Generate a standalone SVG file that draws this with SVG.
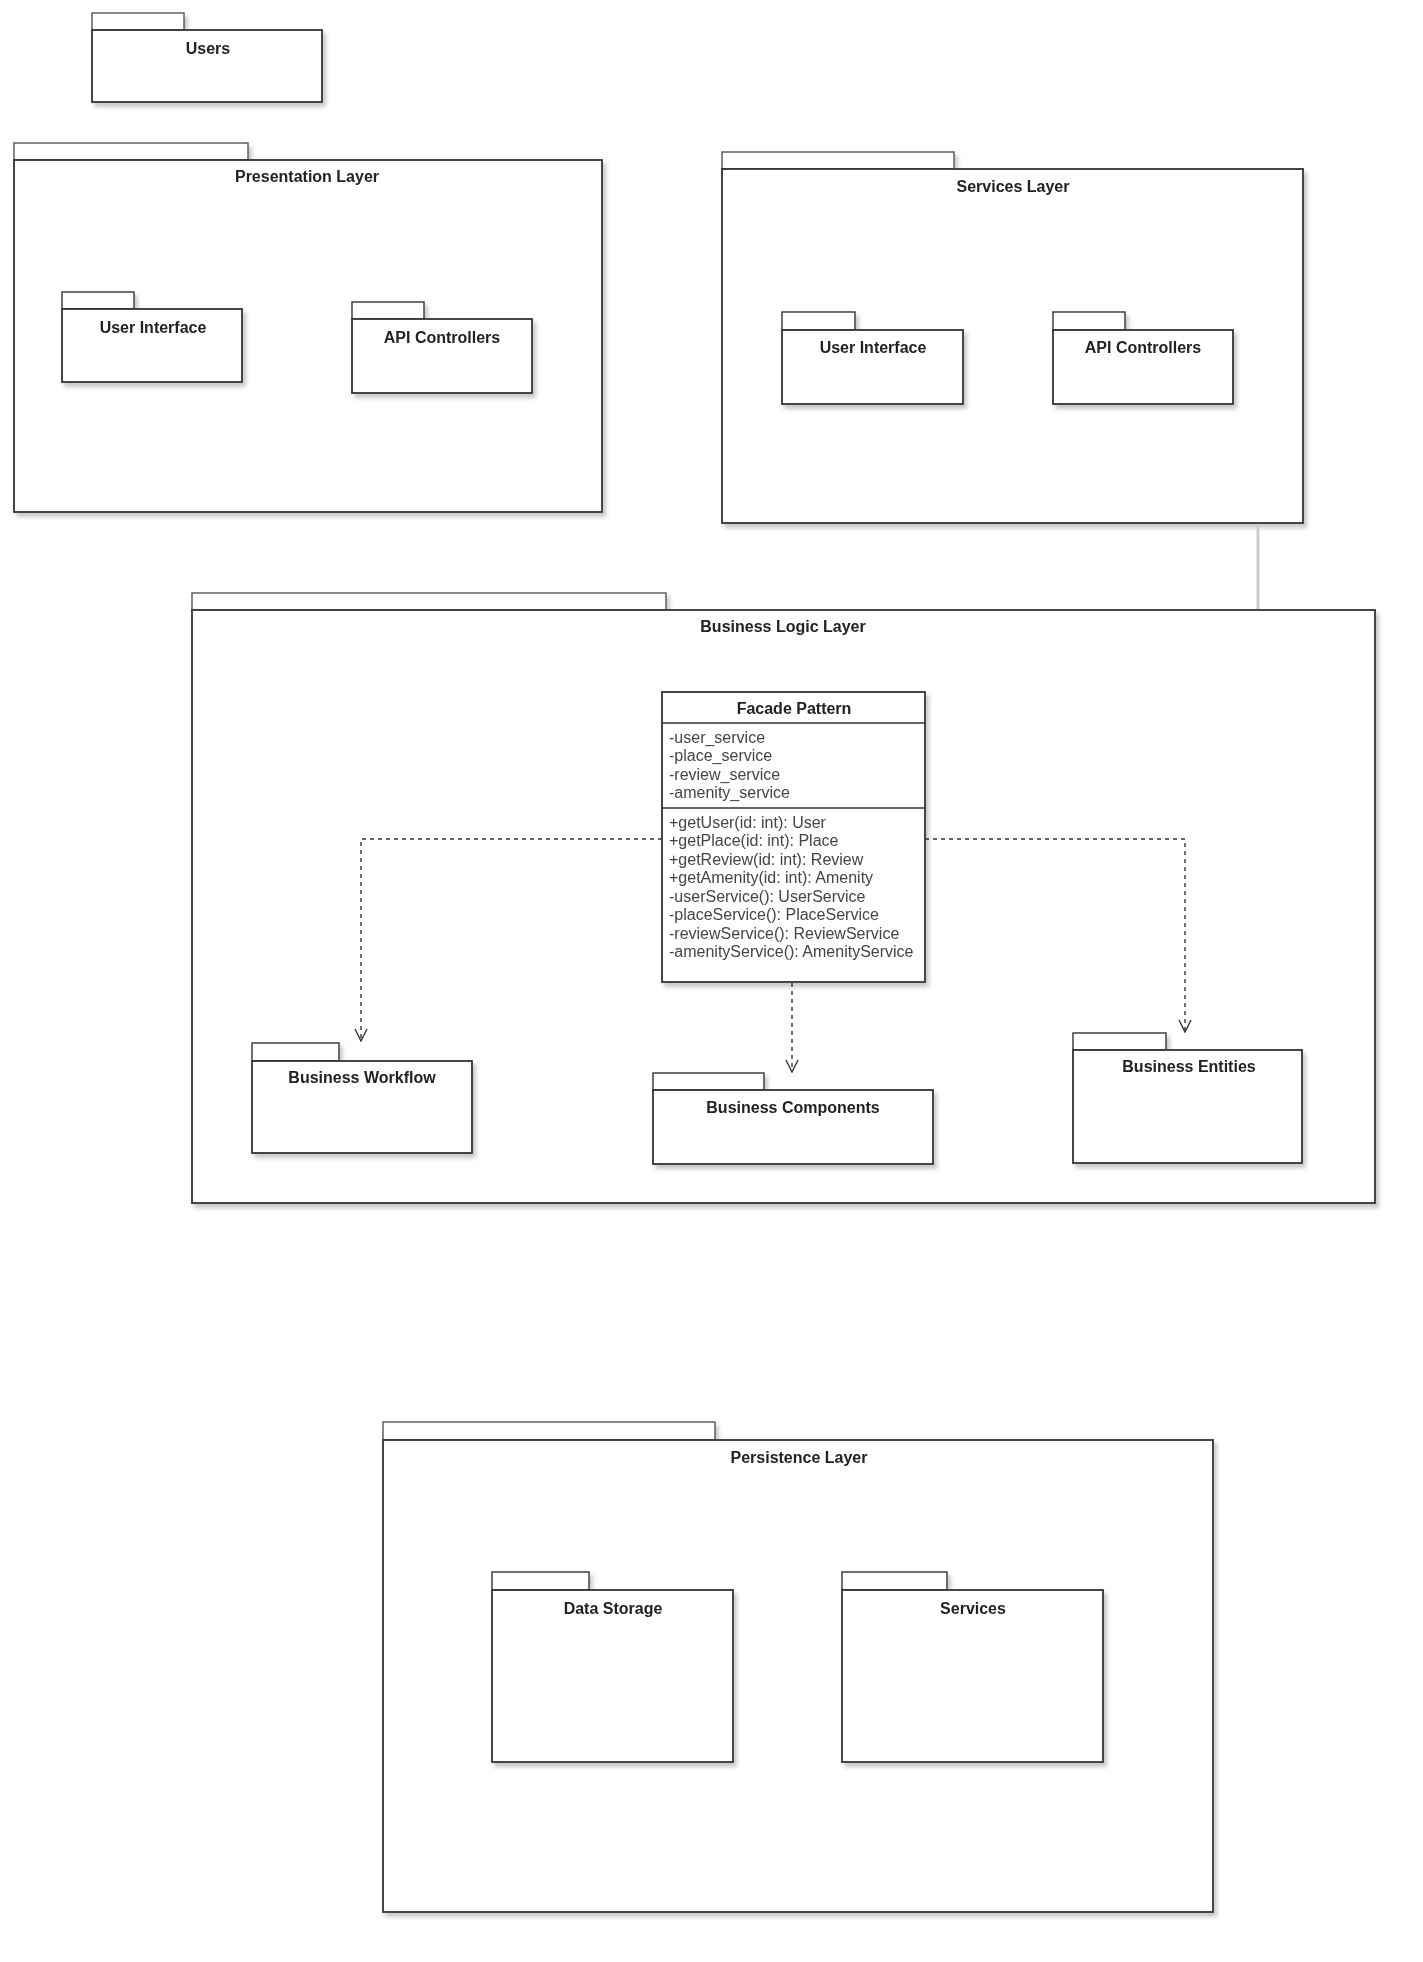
<svg xmlns="http://www.w3.org/2000/svg" width="1423" height="1962" viewBox="0 0 1423 1962">
<style>
  .body { fill: #ffffff; stroke: #333333; stroke-width: 1.8; }
  .tab { fill: #ffffff; stroke: #555555; stroke-width: 1.4; }
  .title { font-family: "Liberation Sans", Arial, sans-serif; font-size: 16px; font-weight: bold; fill: #222222; text-anchor: middle; }
  .member { font-family: "Liberation Sans", Arial, sans-serif; font-size: 16px; fill: #444444; }
  .dep { fill: none; stroke: #333333; stroke-width: 1.4; stroke-dasharray: 4 4; }
  .sep { stroke: #333333; stroke-width: 1.6; }
</style>
<defs>
  <filter id="shadow" x="-5%" y="-5%" width="115%" height="115%">
    <feDropShadow dx="3" dy="4" stdDeviation="2" flood-color="#808080" flood-opacity="0.45"/>
  </filter>
  <marker id="open" viewBox="0 0 14 14" refX="13" refY="7" markerWidth="14" markerHeight="14" markerUnits="userSpaceOnUse" orient="auto">
    <path d="M1,1 L13,7 L1,13" fill="none" stroke="#333333" stroke-width="1.4"/>
  </marker>
</defs>
<rect width="1423" height="1962" fill="#ffffff"/>

<!-- Users -->
<g id="users" filter="url(#shadow)">
  <rect class="tab" x="92" y="13" width="92" height="17"/>
  <rect class="body" x="92" y="30" width="230" height="72"/>
  <text class="title" x="208" y="54">Users</text>
</g>

<!-- Presentation Layer -->
<g id="presentation-layer" filter="url(#shadow)">
  <rect class="tab" x="14" y="143" width="234" height="17"/>
  <rect class="body" x="14" y="160" width="588" height="352"/>
  <text class="title" x="307" y="182">Presentation Layer</text>
</g>
<g id="pres-user-interface" filter="url(#shadow)">
  <rect class="tab" x="62" y="292" width="72" height="17" style="stroke:#333"/>
  <rect class="body" x="62" y="309" width="180" height="73"/>
  <text class="title" x="153" y="333">User Interface</text>
</g>
<g id="pres-api-controllers" filter="url(#shadow)">
  <rect class="tab" x="352" y="302" width="72" height="17" style="stroke:#333"/>
  <rect class="body" x="352" y="319" width="180" height="74"/>
  <text class="title" x="442" y="343">API Controllers</text>
</g>

<!-- Services Layer -->
<g id="services-layer" filter="url(#shadow)">
  <rect class="tab" x="722" y="152" width="232" height="17"/>
  <rect class="body" x="722" y="169" width="581" height="354"/>
  <text class="title" x="1013" y="192">Services Layer</text>
</g>
<g id="svc-user-interface" filter="url(#shadow)">
  <rect class="tab" x="782" y="312" width="73" height="18" style="stroke:#333"/>
  <rect class="body" x="782" y="330" width="181" height="74"/>
  <text class="title" x="873" y="353">User Interface</text>
</g>
<g id="svc-api-controllers" filter="url(#shadow)">
  <rect class="tab" x="1053" y="312" width="72" height="18" style="stroke:#333"/>
  <rect class="body" x="1053" y="330" width="180" height="74"/>
  <text class="title" x="1143" y="353">API Controllers</text>
</g>

<!-- Business Logic Layer -->
<g id="business-logic-layer" filter="url(#shadow)">
  <rect class="tab" x="192" y="593" width="474" height="17"/>
  <rect class="body" x="192" y="610" width="1183" height="593"/>
  <text class="title" x="783" y="632">Business Logic Layer</text>
</g>

<g id="facade-pattern" filter="url(#shadow)">
  <rect class="body" x="662" y="692" width="263" height="290"/>
  <line class="sep" x1="662" y1="723" x2="925" y2="723"/>
  <line class="sep" x1="662" y1="808" x2="925" y2="808"/>
  <text class="title" x="794" y="714">Facade Pattern</text>
  <text class="member" x="669" y="743">-user_service</text>
  <text class="member" x="669" y="761">-place_service</text>
  <text class="member" x="669" y="780">-review_service</text>
  <text class="member" x="669" y="798">-amenity_service</text>
  <text class="member" x="669" y="828">+getUser(id: int): User</text>
  <text class="member" x="669" y="846">+getPlace(id: int): Place</text>
  <text class="member" x="669" y="865">+getReview(id: int): Review</text>
  <text class="member" x="669" y="883">+getAmenity(id: int): Amenity</text>
  <text class="member" x="669" y="902">-userService(): UserService</text>
  <text class="member" x="669" y="920">-placeService(): PlaceService</text>
  <text class="member" x="669" y="939">-reviewService(): ReviewService</text>
  <text class="member" x="669" y="957">-amenityService(): AmenityService</text>
</g>

<g id="business-workflow" filter="url(#shadow)">
  <rect class="tab" x="252" y="1043" width="87" height="18" style="stroke:#333"/>
  <rect class="body" x="252" y="1061" width="220" height="92"/>
  <text class="title" x="362" y="1083">Business Workflow</text>
</g>
<g id="business-components" filter="url(#shadow)">
  <rect class="tab" x="653" y="1073" width="111" height="17" style="stroke:#333"/>
  <rect class="body" x="653" y="1090" width="280" height="74"/>
  <text class="title" x="793" y="1113">Business Components</text>
</g>
<g id="business-entities" filter="url(#shadow)">
  <rect class="tab" x="1073" y="1033" width="93" height="17" style="stroke:#333"/>
  <rect class="body" x="1073" y="1050" width="229" height="113"/>
  <text class="title" x="1189" y="1072">Business Entities</text>
</g>

<!-- Persistence Layer -->
<g id="persistence-layer" filter="url(#shadow)">
  <rect class="tab" x="383" y="1422" width="332" height="18"/>
  <rect class="body" x="383" y="1440" width="830" height="472"/>
  <text class="title" x="799" y="1463">Persistence Layer</text>
</g>
<g id="data-storage" filter="url(#shadow)">
  <rect class="tab" x="492" y="1572" width="97" height="18" style="stroke:#333"/>
  <rect class="body" x="492" y="1590" width="241" height="172"/>
  <text class="title" x="613" y="1614">Data Storage</text>
</g>
<g id="persistence-services" filter="url(#shadow)">
  <rect class="tab" x="842" y="1572" width="105" height="18" style="stroke:#333"/>
  <rect class="body" x="842" y="1590" width="261" height="172"/>
  <text class="title" x="973" y="1614">Services</text>
</g>

<!-- Connectors -->
<g id="connectors">
  <line x1="1258" y1="525" x2="1258" y2="609" stroke="#cccccc" stroke-width="3"/>
  <path class="dep" d="M662,839 H361 V1041" marker-end="url(#open)"/>
  <path class="dep" d="M925,839 H1185 V1032" marker-end="url(#open)"/>
  <path class="dep" d="M792,983 V1072" marker-end="url(#open)"/>
</g>
</svg>
